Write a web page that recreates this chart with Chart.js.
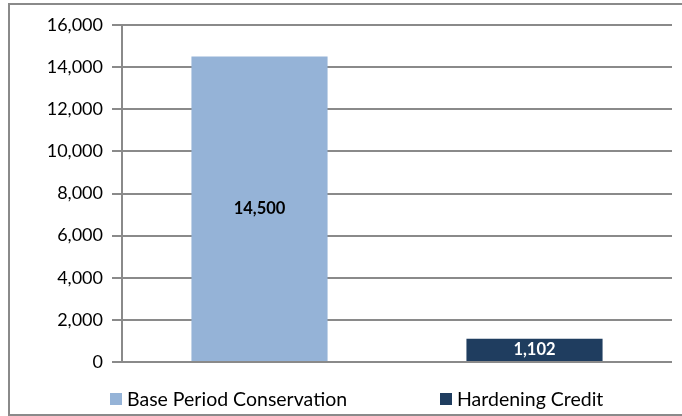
<!DOCTYPE html>
<html>
<head>
<meta charset="utf-8">
<script src="https://cdn.jsdelivr.net/npm/chart.js@4"></script>
<style>
  html, body { margin: 0; padding: 0; background: #fff; }
  #wrap { position: relative; width: 682px; height: 416px; overflow: hidden; }
  #frame { position: absolute; left: 8px; top: 3px; width: 720px; height: 409px; border: 2px solid #8a8a8a; }
  canvas { position: absolute; left: 0; top: 0; }
</style>
</head>
<body>
<div id="wrap">
  <div id="frame"></div>
  <canvas id="chart" width="682" height="416"></canvas>
</div>
<script>
const categories = ['Base Period Conservation', 'Hardening Credit'];
const values = [14500, 1102];
const barColors = ['#95b3d7', '#1f3d5f'];
const labelColors = ['#000000', '#ffffff'];
const yTicks = [0, 2000, 4000, 6000, 8000, 10000, 12000, 14000, 16000];

const FONT = 'Lato, "Open Sans", sans-serif';
const gridColor = '#8a8a8a';

const fmt = v => v.toLocaleString('en-US');

// value labels in the middle of each bar
const barLabels = {
    id: 'barLabels',
    afterDatasetsDraw(chart) {
        const ctx = chart.ctx;
        const meta = chart.getDatasetMeta(0);
        ctx.save();
        ctx.font = 'bold 16.5px ' + FONT;
        ctx.textAlign = 'center';
        ctx.textBaseline = 'middle';
        meta.data.forEach((bar, i) => {
            const mid = (bar.y + bar.base) / 2;
            ctx.fillStyle = labelColors[i];
            ctx.fillText(fmt(values[i]), bar.x, mid);
        });
        ctx.restore();
    }
};

// legend, one item per category
const catLegend = {
    id: 'catLegend',
    afterDraw(chart) {
        const ctx = chart.ctx;
        const xs = [110, 440];
        const y = 399;
        ctx.save();
        ctx.font = '19.5px ' + FONT;
        ctx.textBaseline = 'middle';
        categories.forEach((c, i) => {
            ctx.fillStyle = barColors[i];
            ctx.fillRect(xs[i], y - 6, 12, 12);
            ctx.fillStyle = '#000';
            ctx.fillText(c, xs[i] + 17, y + 1);
        });
        ctx.restore();
    }
};

const ctx = document.getElementById('chart').getContext('2d');
new Chart(ctx, {
    type: 'bar',
    data: {
        labels: categories,
        datasets: [{
            data: values,
            backgroundColor: barColors,
            categoryPercentage: 1,
            barPercentage: 0.495
        }]
    },
    options: {
        responsive: false,
        animation: false,
        layout: { padding: { top: 25, right: 10, bottom: 46, left: 0 } },
        plugins: {
            legend: { display: false },
            tooltip: { enabled: false }
        },
        scales: {
            x: {
                offset: true,
                grid: { display: false },
                ticks: { display: false },
                border: { display: false }
            },
            y: {
                min: 0,
                max: 16000,
                afterBuildTicks: axis => { axis.ticks = yTicks.map(v => ({ value: v })); },
                afterFit: axis => { axis.width = 122; },
                ticks: {
                    padding: 9,
                    color: '#000',
                    font: { family: FONT, size: 18 },
                    callback: v => fmt(v)
                },
                grid: { color: gridColor, lineWidth: 2, tickLength: 10 },
                border: { color: gridColor, width: 2 }
            }
        }
    },
    plugins: [barLabels, catLegend]
});
</script>
</body>
</html>
